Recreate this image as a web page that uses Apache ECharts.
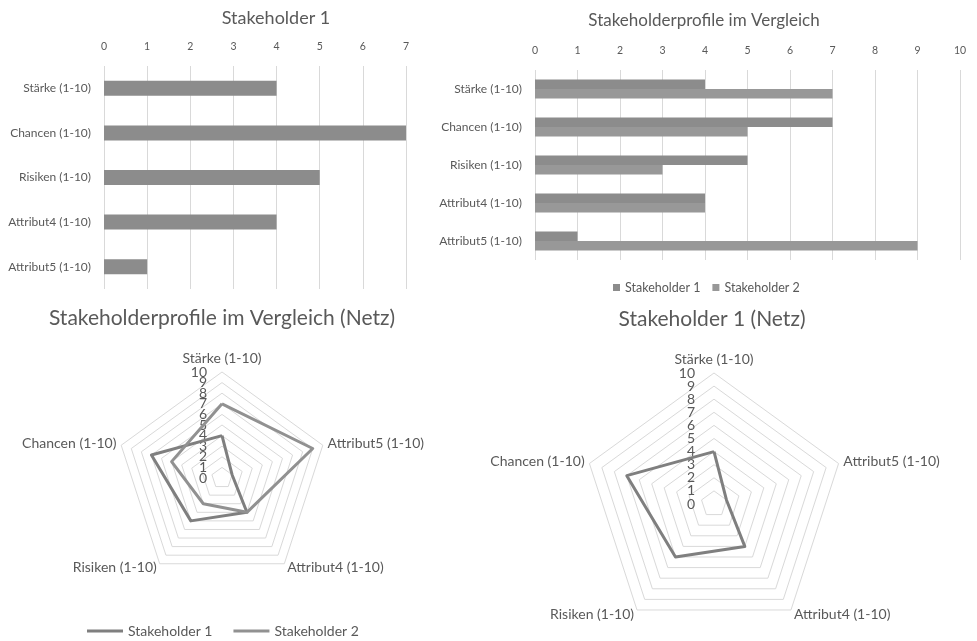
<!DOCTYPE html>
<html>
<head>
<meta charset="utf-8">
<script src="https://cdn.jsdelivr.net/npm/echarts@6/dist/echarts.min.js"></script>
<style>
html,body{margin:0;padding:0;background:#fff;}
#c{width:977px;height:641px;}
</style>
</head>
<body>
<div id="c"></div>
<script>
// ---- data ----
const categories = ['Stärke (1-10)', 'Chancen (1-10)', 'Risiken (1-10)', 'Attribut4 (1-10)', 'Attribut5 (1-10)'];
const stakeholder1 = [4, 7, 5, 4, 1];
const stakeholder2 = [7, 5, 3, 4, 9];
const seriesNames = ['Stakeholder 1', 'Stakeholder 2'];
const titles = ['Stakeholder 1', 'Stakeholderprofile im Vergleich', 'Stakeholderprofile im Vergleich (Netz)', 'Stakeholder 1 (Netz)'];
const radarMin = 0;
const radarMax = 10;

const FONT = 'Lato, "Open Sans", sans-serif';
const TXT = '#595959';
const GRID = '#d9d9d9';

const chart = echarts.init(document.getElementById('c'), null, {renderer: 'canvas'});

function valueAxis(gridIndex, max) {
  return {
    type: 'value', gridIndex: gridIndex, position: 'top', min: 0, max: max, interval: 1,
    axisLine: {show: false}, axisTick: {show: false},
    axisLabel: {color: TXT, fontFamily: FONT, fontSize: 10.5, margin: 14},
    splitLine: {lineStyle: {color: GRID, width: 1}}
  };
}
function catAxis(gridIndex) {
  return {
    type: 'category', gridIndex: gridIndex, data: categories, inverse: true,
    axisLine: {show: false}, axisTick: {show: false},
    axisLabel: {color: TXT, fontFamily: FONT, fontSize: 12, margin: 13}
  };
}
function indicators(mn, mx) {
  return categories.map((c, i) => i === 0
    ? {name: c, min: mn, max: mx, axisLabel: {show: true}}
    : {name: c, min: mn, max: mx});
}
const labelStyle = {color: TXT, fontFamily: FONT, fontSize: 14};
function radarComp(center, radius, margin) {
  return {
    center: center, radius: radius, startAngle: 90, splitNumber: 10, shape: 'polygon',
    indicator: indicators(radarMin, radarMax),
    nameGap: 5,
    axisName: {color: TXT, fontFamily: FONT, fontSize: 14},
    axisLine: {show: false},
    axisTick: {show: false},
    axisLabel: Object.assign({show: false, margin: margin, showMinLabel: true, showMaxLabel: true}, labelStyle),
    splitLine: {lineStyle: {color: GRID, width: 1}},
    splitArea: {show: false}
  };
}
// helper radar sharing the same scale, spanning values 1..9 only, used to place the
// 1 and 9 tick labels that the main axis drops next to its forced min/max labels
function radarHelper(center, radius, margin) {
  const step = radius / (radarMax - radarMin);
  return {
    center: [center[0], center[1] - step * (radarMin + 1)], radius: step * (radarMax - radarMin - 2),
    startAngle: 90, splitNumber: radarMax - radarMin - 2, shape: 'polygon',
    indicator: indicators(radarMin + 1, radarMax - 1),
    axisName: {show: false},
    axisLine: {show: false},
    axisTick: {show: false},
    axisLabel: Object.assign({show: false, margin: margin, showMinLabel: true, showMaxLabel: true,
      formatter: function (v) { return (v === radarMin + 1 || v === radarMax - 1) ? String(v) : ''; }}, labelStyle),
    splitLine: {show: false},
    splitArea: {show: false}
  };
}

const option = {
  animation: false,
  backgroundColor: '#ffffff',
  textStyle: {fontFamily: FONT},
  title: [
    {text: titles[0], left: 276, top: 9, textAlign: 'center', padding: 0, textStyle: {color: TXT, fontFamily: FONT, fontSize: 18, fontWeight: 'normal'}},
    {text: titles[1], left: 704, top: 12, textAlign: 'center', padding: 0, textStyle: {color: TXT, fontFamily: FONT, fontSize: 17, fontWeight: 'normal'}},
    {text: titles[2], left: 222, top: 308, textAlign: 'center', padding: 0, textStyle: {color: TXT, fontFamily: FONT, fontSize: 21, fontWeight: 'normal'}},
    {text: titles[3], left: 712, top: 309, textAlign: 'center', padding: 0, textStyle: {color: TXT, fontFamily: FONT, fontSize: 21, fontWeight: 'normal'}}
  ],
  legend: [
    {
      left: 613, top: 281, padding: 0, itemGap: 12, icon: 'rect', itemWidth: 7, itemHeight: 7,
      textStyle: {color: TXT, fontFamily: FONT, fontSize: 12.5},
      data: [{name: seriesNames[0], itemStyle: {color: '#8c8c8c'}}, {name: seriesNames[1], itemStyle: {color: '#989898'}}],
      selectedMode: false
    },
    {
      left: 87, top: 624, padding: 0, itemGap: 21, icon: 'rect', itemWidth: 36, itemHeight: 3,
      textStyle: {color: TXT, fontFamily: FONT, fontSize: 14},
      data: [{name: seriesNames[0], itemStyle: {color: '#7f7f7f'}}, {name: seriesNames[1], itemStyle: {color: '#919191'}}],
      selectedMode: false
    }
  ],
  grid: [
    {left: 104, width: 302, top: 66, height: 223},
    {left: 535, width: 425, top: 70, height: 190}
  ],
  xAxis: [valueAxis(0, 7), valueAxis(1, 10)],
  yAxis: [catAxis(0), catAxis(1)],
  radar: [
    radarComp([222, 478], 106, 15), radarComp([714, 504], 131, 19),
    radarHelper([222, 478], 106, 15), radarHelper([714, 504], 131, 19)
  ],
  series: [
    {type: 'bar', name: 'S1 bar', xAxisIndex: 0, yAxisIndex: 0, data: stakeholder1, barWidth: 15,
     itemStyle: {color: '#8c8c8c'}},
    {type: 'bar', name: seriesNames[0], xAxisIndex: 1, yAxisIndex: 1, data: stakeholder1, barWidth: 9.5, barGap: '0%',
     itemStyle: {color: '#8c8c8c'}},
    {type: 'bar', name: seriesNames[1], xAxisIndex: 1, yAxisIndex: 1, data: stakeholder2, barWidth: 9.5, barGap: '0%',
     itemStyle: {color: '#989898'}},
    {type: 'radar', radarIndex: 0, symbol: 'none',
     data: [
       {name: seriesNames[0], value: stakeholder1, lineStyle: {color: '#7f7f7f', width: 3}, itemStyle: {color: '#7f7f7f'}},
       {name: seriesNames[1], value: stakeholder2, lineStyle: {color: '#919191', width: 3}, itemStyle: {color: '#919191'}}
     ]},
    {type: 'radar', radarIndex: 1, symbol: 'none',
     data: [
       {name: 'S1 radar', value: stakeholder1, lineStyle: {color: '#7f7f7f', width: 3}, itemStyle: {color: '#7f7f7f'}}
     ]}
  ]
};
chart.setOption(option);
</script>
</body>
</html>
